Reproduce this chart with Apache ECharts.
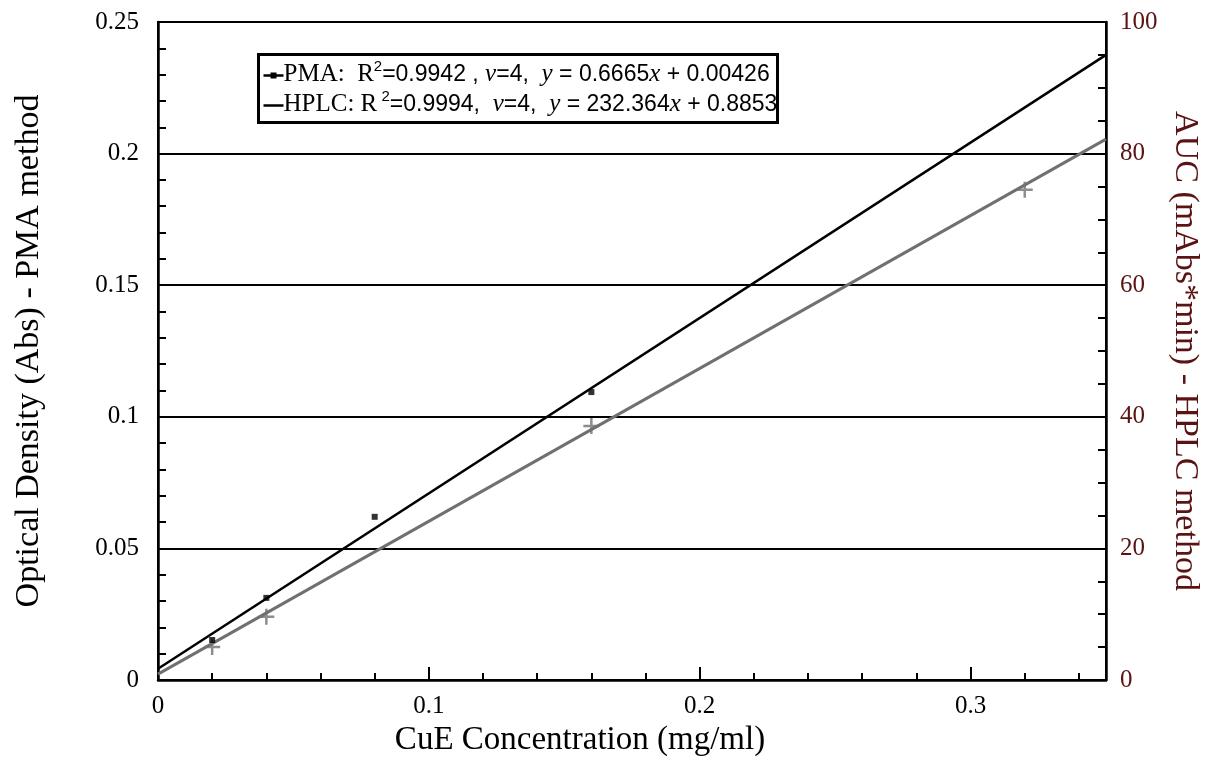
<!DOCTYPE html>
<html>
<head>
<meta charset="utf-8">
<script src="https://cdn.jsdelivr.net/npm/echarts@6/dist/echarts.min.js"></script>
<style>
  html, body { margin: 0; padding: 0; background: #fff; }
  #chart { width: 1217px; height: 782px; }
</style>
</head>
<body>
<div id="chart"></div>
<script>
  // measured points (CuE concentration, mg/ml)
  let pmaX = [0.02, 0.04, 0.08, 0.16];
  let pmaY = [0.0152, 0.0312, 0.062, 0.1094];          // Abs
  let hplcX = [0.02, 0.04, 0.16, 0.32];
  let hplcY = [5.0, 9.6, 38.6, 74.5];                  // mAbs*min
  // fitted lines, end points
  let pmaFit = [[0, 0.0043], [0.35, 0.2375]];
  let hplcFit = [[0, 0.885], [0.35, 82.2]];

  let serif = 'Liberation Serif';
  let sans = 'Liberation Sans';
  let maroon = '#5a1212';
  let grey = '#707070';

  let zip = (xs, ys) => xs.map((x, i) => [x, ys[i]]);

  let rich = {
    s: { fontFamily: serif, fontSize: 25, color: '#000', lineHeight: 30 },
    n: { fontFamily: sans, fontSize: 23, color: '#000', lineHeight: 30 },
    i: { fontFamily: serif, fontSize: 25, fontStyle: 'italic', color: '#000', lineHeight: 30 },
    sup: { fontFamily: sans, fontSize: 15, color: '#000', lineHeight: 16, verticalAlign: 'top' }
  };
  let legendText =
    '{s|PMA:  R}{sup|2}{n|=0.9942 , }{i|v}{n|=4,  }{i|y}{n| = 0.6665}{i|x}{n| + 0.00426}\n' +
    '{s|HPLC: R}{sup| 2}{n|=0.9994,  }{i|v}{n|=4,  }{i|y}{n| = 232.364}{i|x}{n| + 0.8853}';

  let chart = echarts.init(document.getElementById('chart'));
  chart.setOption({
    backgroundColor: '#fff',
    animation: false,
    grid: {
      left: 158, right: 111, top: 22, bottom: 102,
      show: true, borderColor: '#000', borderWidth: 2, backgroundColor: 'transparent'
    },
    xAxis: [{
      type: 'value', min: 0, max: 0.35, interval: 0.1, position: 'bottom',
      name: 'CuE Concentration (mg/ml)', nameLocation: 'middle', nameGap: 44,
      nameTextStyle: { fontFamily: serif, fontSize: 33, color: '#000', padding: [0, 104, 0, 0] },
      axisLine: { show: true, onZero: false, lineStyle: { color: '#000', width: 2.5 } },
      axisTick: { show: true, inside: true, length: 13, lineStyle: { color: '#000', width: 2 } },
      axisLabel: { showMaxLabel: false, margin: 14, fontFamily: serif, fontSize: 25, color: '#000' },
      splitLine: { show: false }
    }, {
      type: 'value', min: 0, max: 0.35, interval: 0.02, position: 'bottom', offset: 0,
      axisLine: { show: false, onZero: false },
      axisTick: { show: true, inside: true, length: 7, lineStyle: { color: '#000', width: 2 } },
      axisLabel: { show: false },
      splitLine: { show: false }
    }],
    yAxis: [{
      type: 'value', min: 0, max: 0.25, interval: 0.05, position: 'left',
      name: 'Optical Density (Abs) - PMA method', nameLocation: 'middle', nameGap: 112,
      nameTextStyle: { fontFamily: serif, fontSize: 34, color: '#000' },
      axisLine: { show: true, onZero: false, lineStyle: { color: '#000', width: 2.5 } },
      axisTick: { show: true, inside: true, length: 8, lineStyle: { color: '#000', width: 2 } },
      minorTick: { show: true, splitNumber: 5, length: 8, lineStyle: { color: '#000', width: 2 } },
      axisLabel: { margin: 19, fontFamily: serif, fontSize: 25, color: '#000' },
      splitLine: { show: true, lineStyle: { color: '#000', width: 2 } }
    }, {
      type: 'value', min: 0, max: 100, interval: 20, position: 'right',
      name: 'AUC (mAbs*min) - HPLC method', nameLocation: 'middle', nameGap: 62,
      nameRotate: -90,
      nameTextStyle: { fontFamily: serif, fontSize: 34, color: maroon },
      axisLine: { show: true, onZero: false, lineStyle: { color: '#000', width: 2.5 } },
      axisTick: { show: true, inside: true, length: 8, lineStyle: { color: '#000', width: 2 } },
      minorTick: { show: true, splitNumber: 4, length: 8, lineStyle: { color: '#000', width: 2 } },
      axisLabel: { margin: 14, fontFamily: serif, fontSize: 25, color: maroon },
      splitLine: { show: false }
    }],
    series: [{
      name: 'HPLC fit', type: 'line', xAxisIndex: 0, yAxisIndex: 1,
      data: hplcFit, showSymbol: false, symbol: 'none',
      lineStyle: { color: grey, width: 3 }, z: 3
    }, {
      name: 'PMA fit', type: 'line', xAxisIndex: 0, yAxisIndex: 0,
      data: pmaFit, showSymbol: false, symbol: 'none',
      lineStyle: { color: '#000', width: 2.5 }, z: 4
    }, {
      name: 'HPLC', type: 'scatter', xAxisIndex: 0, yAxisIndex: 1,
      data: zip(hplcX, hplcY),
      symbol: 'path://M0,5L10,5M5,0L5,10', symbolSize: 16,
      itemStyle: { color: 'transparent', borderColor: grey, borderWidth: 2.5 }, z: 5
    }, {
      name: 'PMA', type: 'scatter', xAxisIndex: 0, yAxisIndex: 0,
      data: zip(pmaX, pmaY),
      symbol: 'rect', symbolSize: 6,
      itemStyle: { color: '#000' }, z: 6
    }],
    graphic: [{
      type: 'group', left: 257, top: 53, z: 100,
      children: [{
        type: 'rect', shape: { x: 0, y: 0, width: 519, height: 68 },
        style: { fill: '#fff', stroke: '#000', lineWidth: 3 }
      }, {
        type: 'line', shape: { x1: 5, y1: 21, x2: 25, y2: 21 },
        style: { stroke: '#000', lineWidth: 2.5 }
      }, {
        type: 'rect', shape: { x: 12, y: 18, width: 6, height: 6 },
        style: { fill: '#000' }
      }, {
        type: 'line', shape: { x1: 5, y1: 51, x2: 25, y2: 51 },
        style: { stroke: '#000', lineWidth: 2.5 }
      }, {
        type: 'text', x: 25, y: 5,
        style: { text: legendText, rich: rich, fill: '#000' }
      }]
    }]
  });
</script>
</body>
</html>
